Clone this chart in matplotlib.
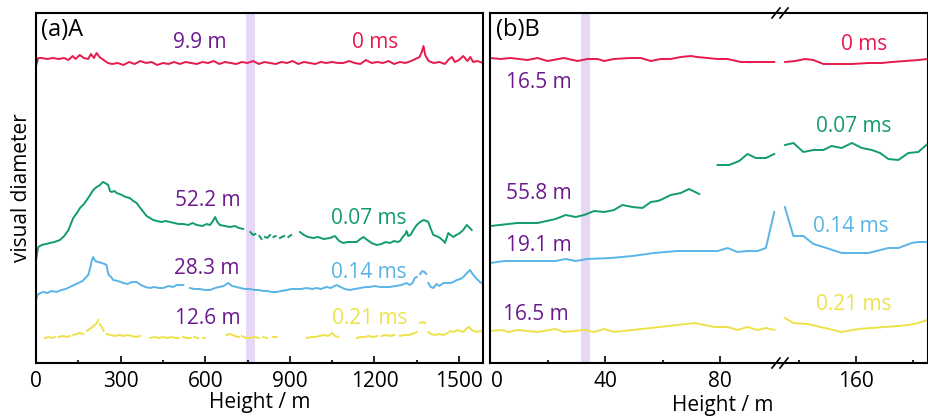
import numpy as np
import matplotlib
matplotlib.use('Agg')
import matplotlib.pyplot as plt
from matplotlib.lines import Line2D
from matplotlib.transforms import ScaledTranslation

plt.rcParams['font.family'] = ['Open Sans', 'DejaVu Sans']
plt.rcParams['font.size'] = 15

nan = np.nan

# --- colours ---
C_RED = '#E8194B'
C_GREEN = '#129B6C'
C_BLUE = '#5AB4E5'
C_YELLOW = '#EDE24A'
C_PURPLE = '#6C1A8C'
C_BAND = '#E6D7F7'

# --- (a) A : traces along height (m), offset diameters ---
a_red_x = [0, 8, 20, 40, 60, 80, 100, 115, 130, 140, 155, 170, 185, 195, 205, 215, 225, 240,
           255, 270, 290, 310, 330, 350, 370, 390, 410, 430, 450, 470, 490, 510, 530, 550,
           570, 590, 610, 630, 650, 670, 690, 710, 730, 750, 770, 790, 810, 830, 850, 870,
           890, 910, 930, 950, 970, 990, 1010, 1030, 1050, 1070, 1090, 1110, 1130, 1150,
           1170, 1190, 1210, 1230, 1250, 1270, 1290, 1310, 1330, 1345, 1360, 1368, 1374,
           1380, 1392, 1410, 1430, 1450, 1465, 1475, 1485, 1500, 1515, 1530, 1540, 1550,
           1565, 1585]
a_red_y = [297, 305, 305, 304, 305, 304, 305, 303, 307, 304, 308, 305, 304, 309, 305, 310, 306,
           303, 300, 299, 300, 298, 301, 299, 302, 300, 301, 298, 300, 299, 301, 299, 301,
           300, 299, 301, 300, 302, 299, 301, 300, 299, 301, 300, 302, 299, 301, 300, 299,
           301, 300, 302, 299, 301, 300, 299, 301, 300, 301, 300, 300, 302, 300, 299, 303,
           300, 301, 300, 302, 299, 301, 300, 302, 304, 306, 311, 317, 308, 302, 300, 301,
           299, 304, 306, 301, 303, 307, 302, 306, 301, 302, 300]

a_green_x = [0, 4, 8, 20, 35, 50, 65, 85, 100, 115, 132, 145, 156, 170, 180, 192, 203, 215,
             227, 237, 245, 256, 262, 268, 278, 286, 296, 304, 318, 333, 345, 357, 370, 381,
             392, 404, 416, 428, 445, 460, 475, 490, 505, 522, 540, 555, 570, 590, 605, 617,
             627, 635, 643, 652, 670, 688, 705, 720, 735, 747,
             760, 770, 778, 785, 792, 800, 806, 812, 820, 830, 836, 842, 850, 857, 865, 880,
             887, 895, 905, 920,
             936, 950, 965, 983, 1000, 1020, 1042, 1060, 1075, 1090, 1105, 1120, 1137, 1150,
             1161, 1175, 1190, 1208, 1225, 1240, 1255, 1270, 1282, 1291, 1300, 1310, 1314,
             1320, 1328, 1338, 1350, 1362, 1374, 1385, 1391, 1400, 1409, 1420, 1433, 1445,
             1450, 1456, 1462, 1470, 1480, 1490, 1503, 1515, 1527, 1535, 1545]
a_green_y = [103, 110, 116, 118, 119, 120, 121, 123, 127, 133, 145, 150, 155, 159, 163, 168,
             173, 176, 178, 181, 180, 178, 172, 171, 172, 170, 169, 168, 166, 165, 162, 160,
             155, 151, 147, 145, 143, 142, 141, 142, 141, 140, 139, 139, 138, 140, 138, 137,
             139, 138, 142, 146, 141, 138, 137, 136, 137, 135, 134, nan,
             131, 128, 129, nan, 127, 124, nan, 126, 125, 128, nan, 126, 127, nan, 125, 127,
             nan, 126, 128, nan,
             131, 128, 126, 125, 126, 124, 125, 127, 122, 120, 121, 121, 121, 124, 126, 123,
             120, 118, 119, 121, 120, 122, 121, 122, 126, 129, 132, 127, 128, 133, 138, 141,
             143, 142, 141, 134, 128, 127, 125, 122, 120, 125, 130, 128, 126, 128, 130, 133,
             138, 136, 133]

a_blue_x = [0, 5, 15, 26, 40, 55, 73, 90, 105, 120, 135, 150, 165, 175, 185, 193, 198, 203,
            210, 220, 233, 243, 250, 254, 258, 266, 274, 290, 310, 325, 340, 357, 372, 388,
            404, 420, 436, 451, 470, 485, 500, 522, 534,
            546, 560, 580, 600, 617, 635, 650, 665, 682, 695, 711, 725, 740, 759, 775, 790,
            806, 820, 835, 853, 870, 890, 905, 924, 940, 960, 980, 995, 1010, 1030, 1045,
            1066, 1080, 1095, 1113, 1130, 1150, 1170, 1184, 1200, 1220, 1238, 1255, 1275,
            1295, 1314, 1325, 1335, 1343, 1350, 1356,
            1362, 1370, 1378, 1384, 1388,
            1391, 1400, 1409, 1420, 1430, 1445, 1460, 1470, 1480, 1492, 1505, 1515, 1525,
            1532, 1539, 1548, 1560, 1574, 1585]
a_blue_y = [63, 68, 70, 71, 70, 72, 71, 73, 74, 76, 78, 80, 82, 85, 88, 96, 103, 106, 102,
            101, 100, 99, 98, 92, 88, 86, 83, 82, 80, 79, 81, 81, 78, 76, 75, 76, 75, 75, 77,
            76, 78, 78, nan,
            75, 74, 74, 73, 73, 75, 76, 77, 80, 77, 76, 75, 74, 74, 73, 73, 72, 72, 71, 71,
            72, 73, 74, 74, 74, 75, 74, 75, 74, 76, 75, 78, 76, 74, 73, 74, 75, 76, 76, 77,
            76, 76, 76, 77, 78, 80, 78, 80, 85, 86, nan,
            89, 92, 91, 89, nan,
            80, 76, 75, 79, 77, 80, 80, 80, 81, 83, 84, 86, 89, 91, 93, 89, 85, 81, 79]

a_yellow_x = [32, 45, 55, 67, 73, 80, 95, 110, 120, 126, 132, 145, 155, 168, 174, 180, 190,
              200, 209, 215, 221, 224, 226, 233, 240, 245, 250, 265, 280, 295, 310, 325, 340,
              355, 369, 385, 404, 420, 435, 450, 465, 480, 495, 505, 512, 520, 535, 548, 554,
              560, 575, 585, 593, 598, 640, 676, 690, 705, 720, 725, 730, 745, 760, 775, 790,
              798, 805, 820, 830, 840, 853, 900, 960, 975, 990, 1005, 1020, 1035, 1050, 1060,
              1072, 1100, 1137, 1150, 1165, 1180, 1195, 1210, 1218, 1225, 1240, 1255, 1270,
              1280, 1290, 1305, 1320, 1335, 1350, 1356, 1362, 1372, 1380, 1386, 1391, 1400,
              1415, 1430, 1445, 1460, 1470, 1480, 1495, 1505, 1515, 1525, 1535, 1545, 1560,
              1575, 1585]
a_yellow_y = [25, 26, 25, 26, nan, 26, 27, 26, 27, nan, 28, 29, 30, 29, nan, 32, 34, 36, 38,
              40, 43, nan, 39, 36, 32, nan, 29, 28, 27, 28, 27, 28, 27, 26, 27, nan, 25, 26,
              25, 26, 25, 26, 25, 25, nan, 26, 25, 25, nan, 26, 25, nan, 25, 25, nan, 28, 29,
              27, 26, nan, 27, 25, 25, 26, 25, nan, 26, 25, nan, 26, 26, nan, 25, 26, 26, 27,
              28, 27, 30, 27, 26, nan, 25, 26, 26, 27, 26, 27, nan, 27, 28, 27, 28, nan, 27,
              28, 28, 29, 31, nan, 40, 41, 40, nan, 31, 29, 28, 29, 28, 30, 32, 31, 33, 32,
              31, 34, 36, 33, 31, 32, 31]

# --- (b) B : broken height axis, 0-100 m and 133-185 m (nan marks the break) ---
b_red_x = [0, 3.7, 7.2, 13, 16.5, 20, 25.7, 30.4, 33.9, 37.4, 39.7, 43, 48.9, 52.4, 55.9,
           59.3, 62.8, 66.3, 69.8, 72, 75.6, 79, 82.6, 87.2, 93, 98.8, 117,
           135.1, 138.6, 142.1, 145, 148.5, 152.6, 158.5, 164.3, 169, 172.5, 177.2, 181.8, 185]
b_red_y = [305, 304, 305, 303, 305, 302, 305, 302, 304, 304, 302, 304, 305, 305, 302, 304,
           304, 306, 307, 306, 305, 304, 304, 301, 301, 301, nan,
           301, 302, 304, 303, 299, 299, 299, 300, 300, 301, 302, 303, 304]

b_green_x = [0.2, 9.5, 16.5, 22.8, 26.3, 29.8, 32.7, 36.2, 39.7, 43.1, 46, 49.5, 53, 55.9,
             58.2, 59.3, 62.8, 66.3, 69.2, 72.7, 76,
             79.1, 83.1, 86.6, 89.5, 92.4, 95.9, 98.8, 117,
             135.1, 138, 141.5, 145, 148.5, 151.4, 154.9, 158.5, 162, 165.5, 168.4, 171.3,
             174.8, 178.3, 181.8, 185]
b_green_y = [137, 140, 140, 144, 148, 146, 148, 152, 151, 153, 158, 156, 155, 161, 162, 163,
             168, 170, 174, 169, nan,
             198, 198, 202, 209, 205, 205, 209, nan,
             218, 220, 211, 213, 213, 217, 215, 220, 215, 213, 210, 204, 203, 210, 211, 219]

b_blue_x = [0.2, 5, 12, 22.8, 26.3, 29.8, 33.9, 42, 49.5, 57, 65.1, 79.1, 82.6, 86, 89.5,
            93, 95.9, 98.8, 117,
            135, 138, 141.5, 145, 148.5, 154.9, 164.3, 171.3, 174.8, 179.5, 181.8, 185]
b_blue_y = [100, 102, 102, 102, 104, 102, 104, 105, 107, 110, 112, 112, 115, 111, 112, 112,
            115, 151, nan,
            156, 127, 127, 119, 116, 110, 110, 115, 115, 120, 121, 121]

b_yellow_x = [0.2, 3.7, 6.6, 9.5, 16.5, 22.8, 25.7, 32.7, 36.2, 39.7, 43.1, 49.5, 55.9,
              65.1, 71, 78, 82.6, 86, 89.5, 93, 95.9, 98.8, 117,
              135, 138, 143, 149, 154.9, 160.7, 165.5, 170, 174.8, 178.3, 181.8, 185]
b_yellow_y = [32, 33, 31, 33, 31, 34, 31, 33, 31, 34, 31, 33, 35, 38, 40, 36, 36, 33, 36,
              33, 35, 33, nan,
              45, 40, 39, 35, 31, 34, 35, 36, 37, 38, 40, 43]

# text annotations: (x, y, text)
a_lengths = [(582, 320, '9.9 m'), (610, 163, '52.2 m'), (606, 94, '28.3 m'), (608, 45, '12.6 m')]
a_times = [(1202, 320, '0 ms', C_RED), (1181, 145, '0.07 ms', C_GREEN),
           (1181, 91, '0.14 ms', C_BLUE), (1183, 45, '0.21 ms', C_YELLOW)]
b_lengths = [(17, 281, '16.5 m'), (17, 170, '55.8 m'), (17, 118, '19.1 m'), (16, 49, '16.5 m')]
b_times = [(162.8, 318, '0 ms', C_RED), (159, 237, '0.07 ms', C_GREEN),
           (158.2, 137, '0.14 ms', C_BLUE), (159, 58, '0.21 ms', C_YELLOW)]

band_a = (745, 775)
band_b = (31.5, 34.6)

W, H = 929, 419
fig = plt.figure(figsize=(W / 100, H / 100), dpi=100)
axA = fig.add_axes([36 / W, 1 - 363 / H, 447 / W, 350 / H])
axB1 = fig.add_axes([490 / W, 1 - 363 / H, 290 / W, 350 / H])
axB2 = fig.add_axes([780 / W, 1 - 363 / H, 148 / W, 350 / H])

lw = 1.4
axA.axvspan(*band_a, color=C_BAND, lw=0, zorder=0)
axA.plot(a_red_x, a_red_y, color=C_RED, lw=lw)
axA.plot(a_green_x, a_green_y, color=C_GREEN, lw=lw)
axA.plot(a_blue_x, a_blue_y, color=C_BLUE, lw=lw)
axA.plot(a_yellow_x, a_yellow_y, color=C_YELLOW, lw=lw)

for ax in (axB1, axB2):
    ax.plot(b_red_x, b_red_y, color=C_RED, lw=lw)
    ax.plot(b_green_x, b_green_y, color=C_GREEN, lw=lw)
    ax.plot(b_blue_x, b_blue_y, color=C_BLUE, lw=lw)
    ax.plot(b_yellow_x, b_yellow_y, color=C_YELLOW, lw=lw)
axB1.axvspan(*band_b, color=C_BAND, lw=0, zorder=0)

axA.set_xlim(0, 1585)
axB1.set_xlim(0, 100.8)
axB2.set_xlim(133.3, 185.2)
for ax in (axA, axB1, axB2):
    ax.set_ylim(0, 350)
    ax.set_yticks([])
    for s in ax.spines.values():
        s.set_linewidth(1.5)
    ax.tick_params(axis='x', which='major', direction='in', length=5, width=1.2, pad=6,
                   labelsize=15)
    ax.tick_params(axis='x', which='minor', direction='in', length=2.5, width=1.2)

axA.set_xticks(np.arange(0, 1501, 300))
axA.set_xticks(np.arange(150, 1600, 300), minor=True)
axB1.set_xticks([0, 40, 80])
axB1.set_xticks([20, 60], minor=True)
axB2.set_xticks([160])
axB2.set_xticks([140, 180], minor=True)
axB1.spines['right'].set_visible(False)
axB2.spines['left'].set_visible(False)

# nudge the "0" of (b) right so it clears the "1500" of (a)
zero_lbl = axB1.xaxis.get_major_ticks()[0].label1
zero_lbl.set_transform(zero_lbl.get_transform() + ScaledTranslation(0.07, 0, fig.dpi_scale_trans))

axA.set_ylabel('visual diameter', fontsize=15, labelpad=3)
axA.set_xlabel('Height / m', fontsize=15, labelpad=0)
fig.text(723 / W, 1 - 405 / H, 'Height / m', ha='center', va='center', fontsize=15)

# break marks on the height axis of (b)
for py in (363, 13):
    for px in (776, 784):
        fig.add_artist(Line2D([(px - 4) / W, (px + 4) / W], [1 - (py + 5) / H, 1 - (py - 5) / H],
                              transform=fig.transFigure, color='black', lw=1.2))

axA.text(0.012, 0.951, '(a)A', transform=axA.transAxes, ha='left', va='center', fontsize=17)
axB1.text(0.022, 0.951, '(b)B', transform=axB1.transAxes, ha='left', va='center', fontsize=17)

for x, y, t in a_lengths:
    axA.text(x, y, t, color=C_PURPLE, ha='center', va='center', fontsize=15)
for x, y, t, c in a_times:
    axA.text(x, y, t, color=c, ha='center', va='center', fontsize=15)
for x, y, t in b_lengths:
    axB1.text(x, y, t, color=C_PURPLE, ha='center', va='center', fontsize=15)
for x, y, t, c in b_times:
    axB2.text(x, y, t, color=c, ha='center', va='center', fontsize=15)

fig.savefig('out.png', dpi=100)
